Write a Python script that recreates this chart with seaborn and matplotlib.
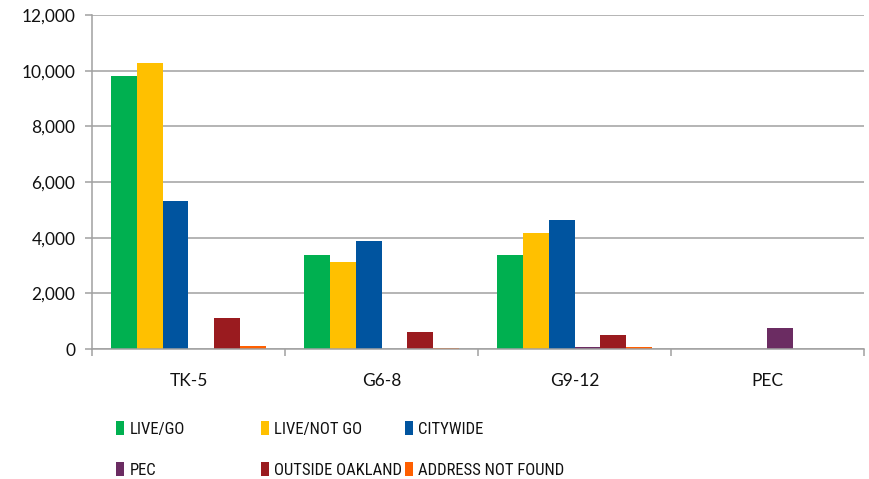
import os
import matplotlib
matplotlib.use("Agg")
import matplotlib.pyplot as plt
import seaborn as sns
import pandas as pd
from matplotlib import font_manager as fm
from matplotlib.patches import Patch
from matplotlib.ticker import FuncFormatter, MultipleLocator

categories = ["TK-5", "G6-8", "G9-12", "PEC"]
series = ["LIVE/GO", "LIVE/NOT GO", "CITYWIDE", "PEC", "OUTSIDE OAKLAND", "ADDRESS NOT FOUND"]
live_go = [9820, 3380, 3360, 0]
live_not_go = [10290, 3130, 4170, 0]
citywide = [5310, 3890, 4645, 0]
pec = [0, 0, 80, 755]
outside_oakland = [1125, 600, 515, 0]
address_not_found = [110, 25, 55, 0]
colors = ["#00B050", "#FFC000", "#00549F", "#6B2C62", "#9A1B1F", "#FF5F00"]

values = [live_go, live_not_go, citywide, pec, outside_oakland, address_not_found]
rows = []
for s, vals in zip(series, values):
    for c, v in zip(categories, vals):
        rows.append({"category": c, "series": s, "value": v})
df = pd.DataFrame(rows)

sns.set_theme(style="white")
plt.rcParams["font.family"] = ["Lato", "DejaVu Sans"]

# look for an installed narrow/condensed sans face for the legend
priority = ["liberationsansnarrow", "robotocondensed", "opensans_condensed", "opensanscondensed",
            "notosanscondensed", "notosans-condensed", "latocondensed", "dejavusanscondensed"]
best = None
best_rank = 99
for f in fm.fontManager.ttflist:
    fn = os.path.basename(f.fname).lower().replace(" ", "")
    if f.style != "normal":
        continue
    if any(k in fn for k in ["bold", "italic", "light", "medium", "black", "thin", "semi", "extra"]):
        continue
    for r, key in enumerate(priority):
        if key in fn and r < best_rank:
            best, best_rank = f.fname, r
if best is not None and best_rank < 7:
    legend_font = fm.FontProperties(fname=best, size=12)
elif best is not None:
    legend_font = fm.FontProperties(fname=best, size=11)
else:
    legend_font = fm.FontProperties(family=["Lato", "DejaVu Sans"], size=10)

fig = plt.figure(figsize=(8.69, 4.79), dpi=100)
ax = fig.add_axes([92 / 869, 1 - 349 / 479, (864 - 92) / 869, (349 - 15) / 479])

sns.barplot(data=df, x="category", y="value", hue="series", order=categories,
            hue_order=series, palette=colors, width=0.8, ax=ax, legend=False,
            linewidth=0, saturation=1)

ax.set_ylim(0, 12000)
ax.set_xlim(-0.5, 3.5)
ax.yaxis.set_major_locator(MultipleLocator(2000))
ax.yaxis.set_major_formatter(FuncFormatter(lambda v, p: f"{int(v):,}"))
ax.set_xlabel("")
ax.set_ylabel("")
ax.grid(axis="y", color="#A0A0A0", linewidth=1.1)
ax.set_axisbelow(True)
for side in ["top", "right"]:
    ax.spines[side].set_visible(False)
for side in ["left", "bottom"]:
    ax.spines[side].set_color("#A0A0A0")
    ax.spines[side].set_linewidth(1.1)

ax.tick_params(axis="y", which="major", left=True, length=5, width=1.1, color="#A0A0A0",
               labelsize=12.5, labelcolor="#111111", pad=7)
ax.set_xticks(range(len(categories)))
ax.set_xticklabels(categories)
ax.tick_params(axis="x", which="major", bottom=False, labelsize=12.5, labelcolor="#111111", pad=11)
ax.set_xticks([-0.5, 0.5, 1.5, 2.5, 3.5], minor=True)
ax.tick_params(axis="x", which="minor", bottom=True, length=5, width=1.1, color="#A0A0A0")

col_x = [116 / 869, 261 / 869, 405 / 869]
for i, x in enumerate(col_x):
    handles = [Patch(facecolor=colors[i], edgecolor="none"),
               Patch(facecolor=colors[i + 3], edgecolor="none")]
    labels = [series[i], series[i + 3]]
    fig.legend(handles, labels, loc="upper left", bbox_to_anchor=(x, 1 - 421 / 479),
               frameon=False, prop=legend_font, handlelength=0.5, handleheight=0.95,
               handletextpad=0.3, labelspacing=1.5, borderaxespad=0, borderpad=0,
               labelcolor="#111111")

fig.savefig("out.png", dpi=100)
